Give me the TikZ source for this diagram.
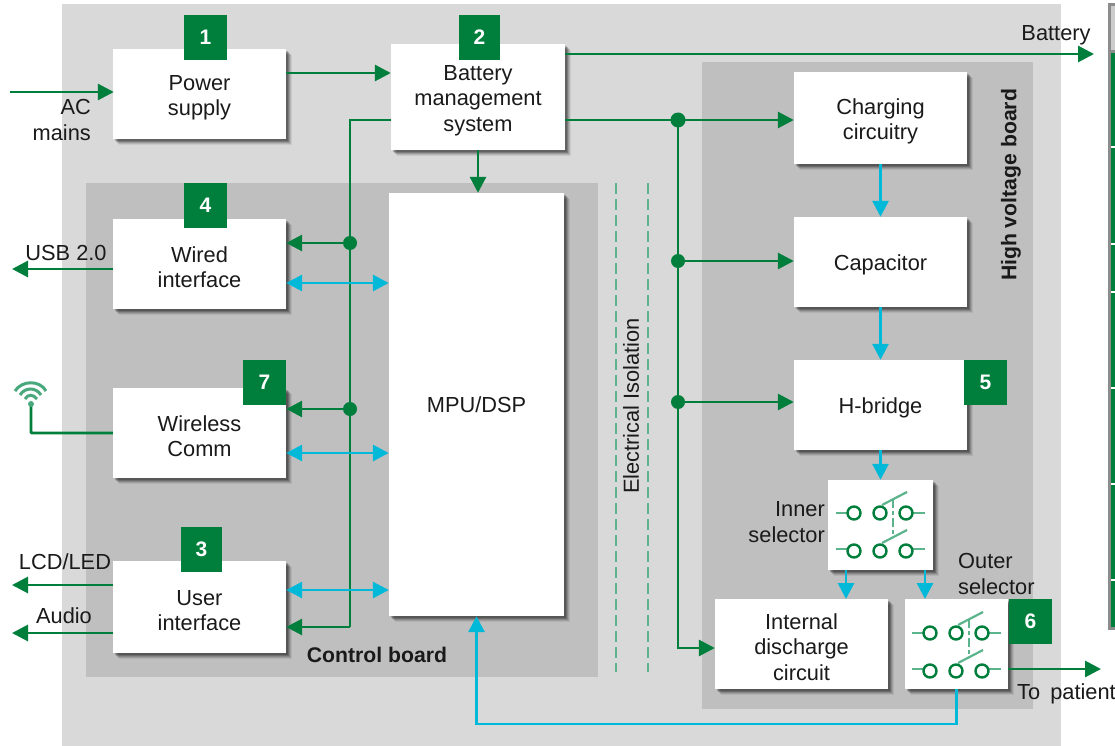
\documentclass[tikz,border=0pt]{standalone}
\usepackage{fontspec}
\setmainfont{Liberation Sans}
\usetikzlibrary{arrows.meta,shadows,calc}
\definecolor{gbar}{HTML}{007F3C}
\definecolor{cyanl}{HTML}{00B9D9}
\definecolor{lgreen}{HTML}{5CB48C}
\definecolor{bgl}{HTML}{D9D9D9}
\definecolor{bgd}{HTML}{BFBFBF}
\definecolor{txt}{HTML}{1A1A1A}
\newcommand{\dn}{\rule{0pt}{22pt}}
\tikzset{
  x=1pt,y=-1pt,
  lbl/.style={font=\fontsize{21.8}{25.3}\selectfont,text=txt,align=center,inner sep=0pt},
  boldlbl/.style={font=\fontsize{21.2}{25}\selectfont\bfseries,text=txt,inner sep=0pt},
  softshadow/.style={
    drop shadow={shadow xshift=6pt,shadow yshift=-6pt,fill=black,opacity=.07},
    drop shadow={shadow xshift=5pt,shadow yshift=-5pt,fill=black,opacity=.10},
    drop shadow={shadow xshift=4pt,shadow yshift=-4pt,fill=black,opacity=.14},
    drop shadow={shadow xshift=3pt,shadow yshift=-3pt,fill=black,opacity=.20},
    drop shadow={shadow xshift=2pt,shadow yshift=-2pt,fill=black,opacity=.20}},
  box/.style={lbl,fill=white,softshadow,minimum width=#1pt},
  badge/.style={fill=gbar,text=white,font=\fontsize{21}{25}\selectfont\bfseries,minimum width=43pt,minimum height=45pt,inner sep=0pt},
  gline/.style={draw=gbar,line width=2.9pt},
  garrow/.style={gline,-{Triangle[length=16pt,width=16pt]}},
  cline/.style={draw=cyanl,line width=2.9pt},
  carrow/.style={cline,-{Triangle[length=16pt,width=16pt]}},
  cboth/.style={cline,{Triangle[length=16pt,width=16pt]}-{Triangle[length=16pt,width=16pt]}},
  jdot/.style={circle,fill=gbar,minimum size=14pt,inner sep=0pt},
  swlead/.style={draw=lgreen,line width=2.2pt},
  swring/.style={draw=gbar,line width=2.4pt,fill=none},
  isol/.style={draw=lgreen,line width=2pt,dash pattern=on 11pt off 5pt},
}
\newcommand{\switchglyph}{%
  \draw[swlead] (836,513) -- (848,513);
  \draw[swlead] (912,513) -- (925,513);
  \draw[swlead] (836,549) -- (848,549);
  \draw[swlead] (912,549) -- (925,549);
  \draw[swlead] (882,505) -- (907,492);
  \draw[swlead] (882,543) -- (907,530);
  \draw[swlead,dash pattern=on 9pt off 3pt on 4pt off 3pt] (893,499) -- (893,535);
  \foreach \cx in {854,880,906}{
    \draw[swring] (\cx,513) circle[radius=6.5pt];
    \draw[swring] (\cx,551) circle[radius=6.5pt];
  }
}
\begin{document}
\begin{tikzpicture}
\useasboundingbox (0,0) rectangle (1115,746);
\fill[white] (0,0) rectangle (1115,746);
% panels
\fill[bgl] (62,4) rectangle (1061,746);
\fill[bgd] (86,183) rectangle (598,677);
\fill[bgd] (702,62) rectangle (1033,709);
% right-hand strip
\fill[gray!90] (1108,3) rectangle (1115,630);
\fill[bgd!80] (1111,6) rectangle (1115,50);
\fill[gbar] (1111,53) rectangle (1115,627);
\foreach \ty in {147,244,292,388,484,580}{\fill[white] (1111,\ty-1) rectangle (1115,\ty+1);}
% isolation
\draw[isol] (616,183) -- (616,672);
\draw[isol] (648,183) -- (648,672);
\node[lbl,rotate=90] (iso) at (631,406) {Electrical Isolation};
% boxes
\node[box=173,minimum height=90pt] (power) at (199.5,94) {\dn Power\\supply};
\node[box=174,minimum height=106pt] (batt) at (478,97) {\dn Battery\\management\\system};
\node[box=173,minimum height=90pt] (wired) at (199.5,264) {\dn Wired\\interface};
\node[box=173,minimum height=90pt] (wless) at (199.5,433) {\dn Wireless\\Comm};
\node[box=173,minimum height=92pt] (user) at (199.5,607) {\dn User\\interface};
\node[box=175,minimum height=423pt] (mpu) at (476.5,404.5) {MPU/DSP};
\node[box=173,minimum height=92pt] (charge) at (880.5,118) {\dn Charging\\circuitry};
\node[box=173,minimum height=90pt] (cap) at (880.5,262) {\dn Capacitor};
\node[box=173,minimum height=90pt] (hb) at (880.5,405) {\dn H-bridge};
\node[box=105,minimum height=90pt] (inner) at (880.5,525) {};
\node[box=173,minimum height=90pt] (disch) at (801.5,644) {\dn Internal\\discharge\\circuit};
\node[box=103,minimum height=90pt] (outer) at (956.5,644) {};
% badges
\node[badge] (b1) at (205.5,37.5) {1};
\node[badge,minimum width=41pt] (b2) at (479.5,37.5) {2};
\node[badge] (b4) at (205.5,205.5) {4};
\node[badge] (b7) at (264.5,382.5) {7};
\node[badge,minimum width=41pt] (b3) at (201.5,549.5) {3};
\node[badge] (b5) at (985.5,382.5) {5};
\node[badge] (b6) at (1030.5,621.5) {6};
% switches
\switchglyph
\begin{scope}[shift={(76,120)}]\switchglyph\end{scope}
% free-end coordinates
\coordinate (acin) at (10,92);
\coordinate (batout) at (1094,54);
\coordinate (usbout) at (12,269);
\coordinate (lcdout) at (12,585);
\coordinate (audout) at (12,633);
\coordinate (patout) at (1101,669);
\coordinate (wifi) at (31,404);
\coordinate (busl) at (350,120);
\coordinate (busr) at (678,120);
% green connectors
\draw[garrow] (acin) -- ([xshift=1pt]power.west |- acin);
\draw[garrow] ([yshift=21pt]power.east) -- ([yshift=24pt]batt.west);
\draw[garrow] ([yshift=43pt]batt.east) -- (batout);
\draw[garrow] ([yshift=-23pt]batt.east) -- ([yshift=-2pt]charge.west);
\draw[garrow] (batt.south) -- (batt.south |- mpu.north);
\draw[garrow] (busr) -- (busr |- 0,648) -- ([yshift=-4pt]disch.west);
\node[jdot,minimum size=15pt] (j1) at (busr) {};
\node[jdot] (j2) at (678,261) {};
\node[jdot] (j3) at (678,402) {};
\draw[garrow] (j2) -- (j2 -| cap.west);
\draw[garrow] (j3) -- (j3 -| hb.west);
\draw[gline] (batt.west |- busl) -- (busl) -- (350,627);
\draw[garrow] (350,627) -- ([yshift=-20pt]user.east);
\node[jdot] (j4) at (350,243) {};
\node[jdot] (j5) at (350,409) {};
\draw[garrow] (j4) -- (j4 -| wired.east);
\draw[garrow] (j5) -- (j5 -| wless.east);
\draw[garrow] ([yshift=-5pt]wired.west) -- (usbout);
\draw[garrow] (user.west |- lcdout) -- (lcdout);
\draw[garrow] (user.west |- audout) -- (audout);
\draw[gline,rounded corners=1pt] (wless.west) -- (wifi |- wless.west) -- (wifi);
\draw[garrow] (outer.east |- patout) -- (patout);
% wifi icon
\begin{scope}[draw=lgreen!80!gbar,line width=3pt]
\draw (15,391) .. controls (22,380) and (40,380) .. (46,391);
\draw (20,395) .. controls (25,387) and (36,387) .. (41,395);
\draw (25,399) .. controls (28,394) and (33,394) .. (37,399);
\end{scope}
\fill[lgreen!80!gbar] (wifi) circle[radius=3pt];
% cyan connectors
\draw[cboth] (wired.east |- 0,283) -- (mpu.west |- 0,283);
\draw[cboth] (wless.east |- 0,453) -- (mpu.west |- 0,453);
\draw[cboth] (user.east |- 0,590) -- (mpu.west |- 0,590);
\draw[carrow] (charge.south) -- (charge.south |- cap.north);
\draw[carrow] (cap.south) -- (hb.north);
\draw[carrow] (hb.south) -- (inner.north);
\draw[carrow] (846,570) -- (846,599);
\draw[carrow] (925,570) -- (925,599);
\draw[carrow] (outer.south) -- (outer.south |- 0,724) -- (mpu.south |- 0,724) -- (mpu.south);
% labels
\node[lbl,align=right,anchor=east] (l1) at (91,120) {AC\\mains};
\node[lbl] (l2) at (1056,35) {Battery};
\node[lbl] (l3) at (66,253) {USB 2.0};
\node[lbl] (l4) at (65,562) {LCD/LED};
\node[lbl] (l5) at (64,616) {Audio};
\node[lbl,align=right,anchor=east] (l6) at (825,522) {Inner\\selector};
\node[lbl,align=left,anchor=west] (l7) at (958,574) {Outer\\selector};
\node[lbl,anchor=west] (l8) at (1017,694) {To\hspace{4pt} patient};
\node[boldlbl] (l9) at (377,655) {Control board};
\node[boldlbl,rotate=90] (l10) at (1011,185) {High voltage board};
\end{tikzpicture}
\end{document}
